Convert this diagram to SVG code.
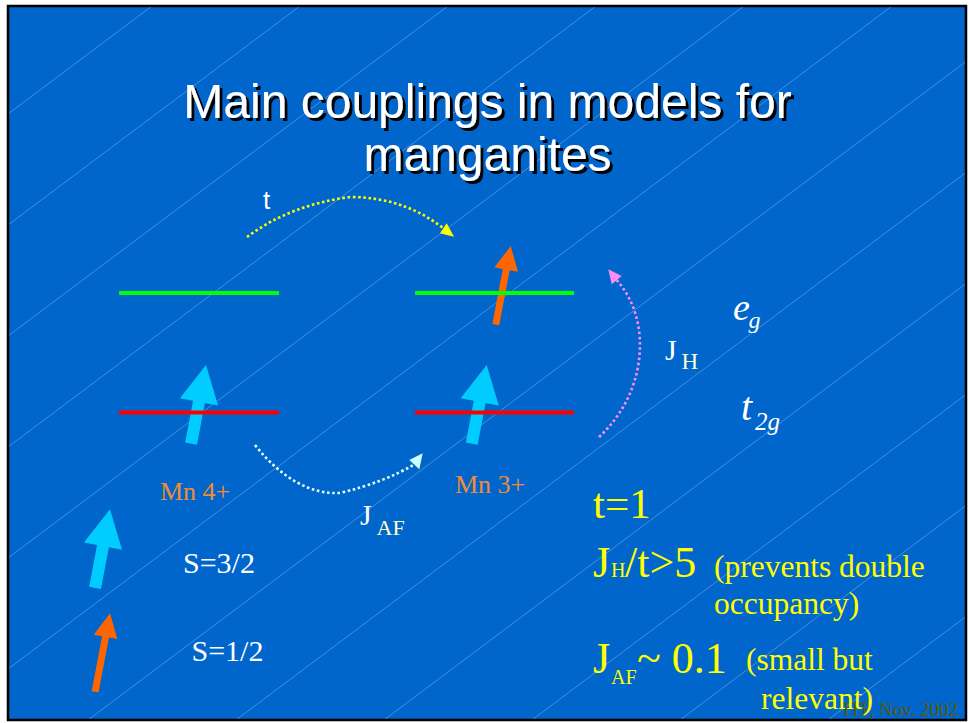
<svg xmlns="http://www.w3.org/2000/svg" width="969" height="723" viewBox="0 0 969 723">
<style>
.bgline{stroke:#FFFFFF;stroke-opacity:0.3;stroke-width:0.9;fill:none}
.title{font-family:"Liberation Sans",Arial,sans-serif;font-size:48px;text-anchor:middle;fill:#FFFFFF}
.sans{font-family:"Liberation Sans",Arial,sans-serif}
.serif{font-family:"Liberation Serif","Times New Roman",serif}
.it{font-style:italic}
.eg{stroke:#00FF00;stroke-width:4}
.t2g{stroke:#FF0000;stroke-width:4}
.cyan{fill:#00CCFF}
.orange{fill:#FF6600}
.dot{fill:none;stroke-width:2.6;stroke-dasharray:2.6 2.6}
.w{fill:#FFFFFF}
.cream{fill:#FFFFCC}
.mn{fill:#F08C35}
.yel{fill:#FFFF00}
</style>
<defs>
<clipPath id="slide"><rect x="9" y="7" width="956" height="712"/></clipPath>
<filter id="shadow" x="-5%" y="-20%" width="110%" height="140%">
<feOffset in="SourceAlpha" dx="2.5" dy="2.5" result="off"/>
<feFlood flood-color="#000000"/>
<feComposite in2="off" operator="in" result="sh"/>
<feMerge><feMergeNode in="sh"/><feMergeNode in="SourceGraphic"/></feMerge>
</filter>
<polygon id="cyanArrow" points="0,0 19.4,37.6 6,37.6 6,80 -6,80 -6,37.6 -19.4,37.6"/>
<polygon id="orangeArrow" points="0,0 12,24 3.5,24 3.5,80 -3.5,80 -3.5,24 -12,24"/>
</defs>
<rect x="0" y="0" width="969" height="723" fill="#FFFFFF"/>
<g id="background">
<rect x="8" y="6" width="958" height="714" fill="#0066CC" stroke="#000000" stroke-width="2.5"/>
<g clip-path="url(#slide)">
<line class="bgline" x1="0" y1="120" x2="969" y2="-606.75"/>
<line class="bgline" x1="0" y1="231" x2="969" y2="-495.75"/>
<line class="bgline" x1="0" y1="342" x2="969" y2="-384.75"/>
<line class="bgline" x1="0" y1="453" x2="969" y2="-273.75"/>
<line class="bgline" x1="0" y1="564" x2="969" y2="-162.75"/>
<line class="bgline" x1="0" y1="675" x2="969" y2="-51.75"/>
<line class="bgline" x1="0" y1="786" x2="969" y2="59.25"/>
<line class="bgline" x1="0" y1="897" x2="969" y2="170.25"/>
<line class="bgline" x1="0" y1="1008" x2="969" y2="281.25"/>
<line class="bgline" x1="0" y1="1119" x2="969" y2="392.25"/>
<line class="bgline" x1="0" y1="1230" x2="969" y2="503.25"/>
<line class="bgline" x1="0" y1="1341" x2="969" y2="614.25"/>
</g>
</g>
<g id="title" filter="url(#shadow)">
<text class="title" x="487.5" y="118">Main couplings in models for</text>
<text class="title" x="487.5" y="171">manganites</text>
</g>
<g id="connectors">
<g id="hop-t">
<path class="dot" stroke="#FFFF00" d="M247,237 Q290,205 350,197 Q403,197 443,228"/>
<polygon fill="#FFFF00" points="454,236.7 440,233.3 446.7,223.3"/>
</g>
<g id="hund-JH">
<path class="dot" stroke="#FF8CF0" d="M599,437 C648,392 652,319 616.7,280.2"/>
<polygon fill="#FF8CF0" points="608.3,269.3 621.7,276 611.7,284.3"/>
</g>
<g id="super-JAF">
<path class="dot" stroke="#E6FFFF" d="M255,445 Q295,495 340,493 Q385,482 414,464.5"/>
<polygon fill="#CCFFFF" points="422.7,453.3 409.3,460 419.3,469.3"/>
</g>
</g>
<g id="mn4">
<use href="#cyanArrow" class="cyan" transform="translate(206,365) rotate(10.75)"/>
<line class="eg" x1="119" y1="293" x2="279" y2="293"/>
<line class="t2g" x1="119" y1="412.5" x2="279" y2="412.5"/>
<text class="serif mn" x="160" y="500" font-size="26">Mn 4+</text>
</g>
<g id="mn3">
<use href="#cyanArrow" class="cyan" transform="translate(486.7,365) rotate(10.75)"/>
<use href="#orangeArrow" class="orange" transform="translate(510.7,246) rotate(10.75)"/>
<line class="eg" x1="415" y1="293" x2="574" y2="293"/>
<line class="t2g" x1="415" y1="412.5" x2="574" y2="412.5"/>
<text class="serif mn" x="455" y="493" font-size="26">Mn 3+</text>
</g>
<g id="labels">
<text class="sans w" x="263" y="209" font-size="26">t</text>
<text class="serif w" x="665" y="360" font-size="30">J</text>
<text class="serif cream" x="681.5" y="369" font-size="23">H</text>
<text class="serif w" x="360" y="525" font-size="30">J</text>
<text class="serif cream" x="376.5" y="535" font-size="22">AF</text>
<text class="serif it w" x="733" y="320" font-size="38">e</text>
<text class="serif it w" x="748.5" y="328" font-size="24">g</text>
<text class="serif it w" x="741" y="420" font-size="40">t</text>
<text class="serif it w" x="755" y="430" font-size="25">2g</text>
</g>
<g id="legend">
<use href="#cyanArrow" class="cyan" transform="translate(110,509.3) rotate(10.75)"/>
<use href="#orangeArrow" class="orange" transform="translate(110,613.3) rotate(10.75)"/>
<text class="serif w" x="183" y="573" font-size="30">S=3/2</text>
<text class="serif w" x="191.5" y="661" font-size="30">S=1/2</text>
</g>
<g id="footer">
<text class="serif" x="958" y="716" font-size="19" text-anchor="end" fill="#5A5A00">ITP, Nov. 2002</text>
</g>
<g id="notes" class="serif yel">
<text x="593" y="518" font-size="43">t=1</text>
<text x="593" y="577" font-size="44">J</text>
<text x="611" y="577" font-size="20">H</text>
<text x="625" y="577" font-size="44">/t&gt;5</text>
<text x="714" y="576.5" font-size="31.5">(prevents double</text>
<text x="714" y="613.5" font-size="31.5">occupancy)</text>
<text x="593" y="673" font-size="44">J</text>
<text x="611" y="684" font-size="20">AF</text>
<text x="637" y="673" font-size="44">~ 0.1</text>
<text x="746" y="670" font-size="31.5">(small but</text>
<text x="761" y="709" font-size="31.5">relevant)</text>
</g>
</svg>
